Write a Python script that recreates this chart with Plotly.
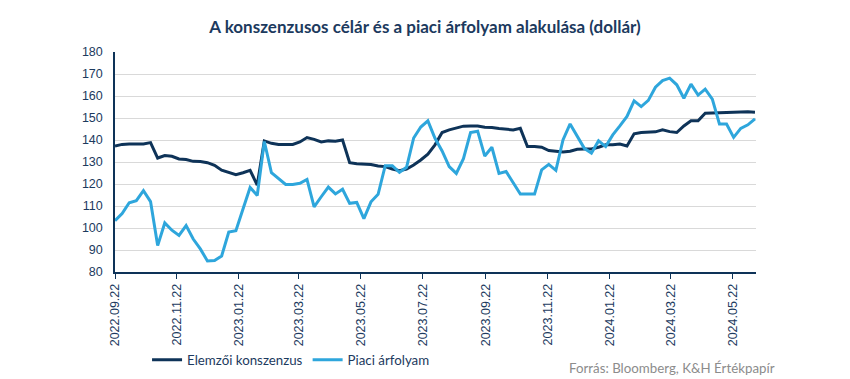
import datetime as dt
import plotly.graph_objects as go

start_date = "2022-09-22"
n_weeks = 91

consensus = [137.3, 138.0, 138.2, 138.2, 138.2, 138.8, 131.8, 132.9, 132.6, 131.4,
             131.1, 130.3, 130.2, 129.7, 128.5, 126.3, 125.4, 124.2, 125.1, 126.2,
             119.5, 139.6, 138.5, 138.0, 138.0, 138.0, 139.1, 141.1, 140.3, 139.1,
             139.6, 139.4, 140.0, 129.7, 129.2, 129.2, 128.9, 128.2, 127.9, 126.8,
             126.0, 126.8, 128.6, 130.9, 133.6, 137.8, 143.4, 144.6, 145.3, 146.3,
             146.4, 146.4, 145.8, 145.7, 145.2, 145.0, 144.6, 145.3, 137.0, 137.0,
             136.7, 135.2, 134.9, 134.6, 134.9, 135.8, 135.9, 135.9, 136.7, 137.8,
             137.8, 138.2, 137.3, 142.8, 143.4, 143.7, 143.7, 144.6, 143.8, 143.4,
             146.4, 148.7, 148.7, 152.2, 152.2, 152.5, 152.5, 152.6, 152.8, 152.8,
             152.6]

price = [103.3, 106.6, 111.5, 112.4, 117.0, 112.0, 92.0, 102.3, 99.0, 96.6,
         101.1, 95.0, 90.5, 85.0, 85.2, 87.3, 98.2, 98.8, 108.6, 118.4,
         114.8, 139.3, 125.1, 122.4, 119.8, 119.8, 120.3, 122.1, 109.6, 114.2,
         118.6, 115.5, 117.6, 111.2, 111.6, 104.3, 111.9, 115.3, 128.3, 128.3,
         125.3, 127.6, 140.9, 145.9, 148.7, 140.8, 135.0, 127.9, 124.8, 131.5,
         143.4, 144.0, 132.7, 136.7, 124.8, 125.7, 120.3, 115.4, 115.4, 115.4,
         126.4, 128.9, 126.2, 140.0, 147.3, 141.5, 136.2, 134.0, 139.6, 137.0,
         142.3, 146.4, 150.7, 157.8, 155.2, 158.0, 164.0, 167.0, 168.1, 165.1,
         159.0, 165.4, 160.4, 163.1, 158.6, 147.3, 147.3, 141.2, 145.3, 146.9,
         149.6]

tick_dates = ["2022-09-22", "2022-11-22", "2023-01-22", "2023-03-22", "2023-05-22",
              "2023-07-22", "2023-09-22", "2023-11-22", "2024-01-22", "2024-03-22",
              "2024-05-22"]
tick_labels = [d.replace("-", ".") for d in tick_dates]
y_ticks = [80, 90, 100, 110, 120, 130, 140, 150, 160, 170, 180]

d0 = dt.date.fromisoformat(start_date)
dates = [d0 + dt.timedelta(days=7 * i) for i in range(n_weeks)]

NAVY = "#0e3358"
SKY = "#2ea6dc"
TXT = "#1c3a5e"

fig = go.Figure()
fig.add_trace(go.Scatter(x=dates, y=consensus, mode="lines", name="Elemzői konszenzus",
                         line=dict(color=NAVY, width=3)))
fig.add_trace(go.Scatter(x=dates, y=price, mode="lines", name="Piaci árfolyam",
                         line=dict(color=SKY, width=3)))

fig.update_layout(
    width=850, height=379,
    margin=dict(l=115, r=94, t=52, b=107, autoexpand=False),
    paper_bgcolor="white", plot_bgcolor="white",
    title=dict(text="<b>A konszenzusos célár és a piaci árfolyam alakulása (dollár)</b>",
               x=0.5, xanchor="center", y=1 - 27 / 379, yanchor="middle", yref="container",
               font=dict(family="Lato", size=17, color=TXT)),
    showlegend=True,
    legend=dict(orientation="h", x=0.05, xanchor="left", y=-0.40, yanchor="middle",
                font=dict(family="Lato", size=13.3, color=TXT), bgcolor="rgba(0,0,0,0)",
                itemwidth=30, tracegroupgap=0),
    annotations=[dict(text="Forrás: Bloomberg, K&H Értékpapír", xref="paper", yref="paper",
                      x=1.033, xanchor="right", y=-0.435, yanchor="middle", showarrow=False,
                      font=dict(family="Lato", size=13.3, color="#8c8c8c"))],
)

fig.update_xaxes(
    type="date", range=[dates[0], dates[-1] + dt.timedelta(days=1)],
    tickmode="array", tickvals=tick_dates, ticktext=tick_labels, tickangle=-90,
    ticks="outside", ticklen=5, tickcolor=NAVY, showgrid=False,
    showline=True, linecolor=NAVY, linewidth=1.5,
    tickfont=dict(family="Liberation Sans", size=12.5, color=TXT),
)
fig.update_yaxes(
    range=[80, 180], tickmode="array", tickvals=y_ticks,
    showgrid=True, gridcolor="#d9d9d9", gridwidth=1,
    showline=True, linecolor=NAVY, linewidth=1.5, ticks="", zeroline=False,
    ticklabelstandoff=8,
    tickfont=dict(family="Liberation Sans", size=12.5, color=TXT),
)

fig.write_html("out.html", config={"displayModeBar": False},
               post_script="document.body.style.margin='0';document.body.style.padding='0';")
